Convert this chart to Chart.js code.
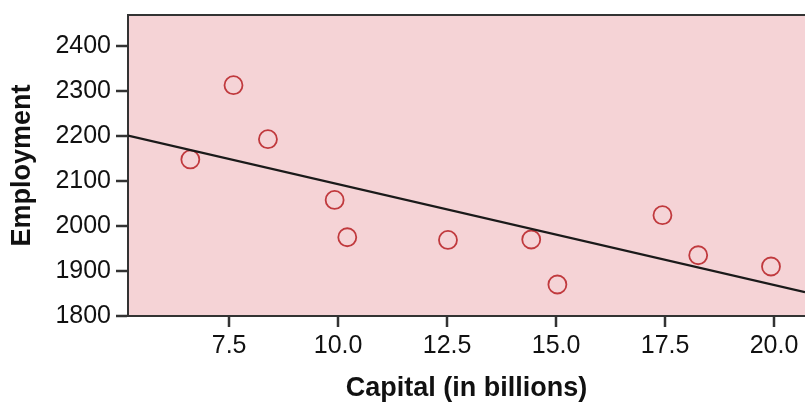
<!DOCTYPE html>
<html>
<head>
<meta charset="utf-8">
<script src="https://cdn.jsdelivr.net/npm/chart.js@4.4.0/dist/chart.umd.min.js"></script>
<style>
  html, body { margin: 0; padding: 0; background: #fff; }
  #wrap { width: 805px; height: 405px; }
</style>
</head>
<body>
<div id="wrap"><canvas id="chart" width="805" height="405"></canvas></div>
<script>
// Capital (billions) vs employment
const capital = [6.61, 7.60, 8.39, 9.92, 10.21, 12.52, 14.43, 15.03, 17.44, 18.26, 19.93];
const employment = [2148, 2313, 2193, 2058, 1975, 1969, 1970, 1870, 2024, 1935, 1910];

// fit line end points
const fitX = [5.18, 20.71];
const fitY = [2201, 1853];

const xTicks = [7.5, 10.0, 12.5, 15.0, 17.5, 20.0];
const yTicks = [1800, 1900, 2000, 2100, 2200, 2300, 2400];

const axisColor = '#333333';
const pink = 'rgb(245, 211, 214)';

const points = capital.map((x, i) => ({ x: x, y: employment[i] }));
const fitLine = fitX.map((x, i) => ({ x: x, y: fitY[i] }));

// pink plot area + top border
const plotBackground = {
    id: 'plotBackground',
    beforeDraw(chart) {
        const { ctx, chartArea } = chart;
        ctx.save();
        ctx.fillStyle = pink;
        ctx.fillRect(chartArea.left, chartArea.top, chartArea.right - chartArea.left, chartArea.bottom - chartArea.top);
        ctx.restore();
    },
    afterDraw(chart) {
        const { ctx, chartArea } = chart;
        ctx.save();
        ctx.strokeStyle = axisColor;
        ctx.lineWidth = 2;
        ctx.beginPath();
        ctx.moveTo(chartArea.left - 1, chartArea.top);
        ctx.lineTo(chartArea.right, chartArea.top);
        ctx.stroke();
        ctx.restore();
    }
};

const fontFamily = 'Liberation Sans, Arial, sans-serif';

new Chart(document.getElementById('chart'), {
    type: 'scatter',
    data: {
        datasets: [
            {
                type: 'line',
                data: fitLine,
                borderColor: '#1a1a1a',
                borderWidth: 2.2,
                pointRadius: 0,
                fill: false
            },
            {
                data: points,
                pointRadius: 9,
                pointHoverRadius: 9,
                pointBorderWidth: 1.8,
                pointBorderColor: '#c0393d',
                pointBackgroundColor: 'rgba(0,0,0,0)'
            }
        ]
    },
    options: {
        responsive: false,
        animation: false,
        layout: { autoPadding: false, padding: { left: 0, right: 0, top: 15, bottom: 0 } },
        plugins: {
            legend: { display: false },
            tooltip: { enabled: false }
        },
        scales: {
            x: {
                type: 'linear',
                min: 5.18,
                max: 20.71,
                afterBuildTicks: scale => { scale.ticks = xTicks.map(v => ({ value: v })); },
                afterFit: scale => { scale.height = 89; scale.paddingRight = 0; scale.paddingLeft = 0; },
                grid: { display: true, drawOnChartArea: false, drawTicks: true, tickLength: 11, color: axisColor, tickColor: axisColor, lineWidth: 2, tickWidth: 2.5 },
                border: { display: true, color: axisColor, width: 2 },
                ticks: {
                    color: '#111',
                    padding: 4,
                    maxRotation: 0,
                    font: { family: fontFamily, size: 25 },
                    callback: v => v.toFixed(1)
                },
                title: {
                    display: true,
                    text: 'Capital (in billions)',
                    color: '#111',
                    padding: { top: 0, bottom: 0 },
                    font: { family: fontFamily, size: 27, weight: 'bold' }
                }
            },
            y: {
                type: 'linear',
                min: 1800,
                max: 2469,
                afterBuildTicks: scale => { scale.ticks = yTicks.map(v => ({ value: v })); },
                afterFit: scale => { scale.width = 128; scale.paddingTop = 0; scale.paddingBottom = 0; },
                grid: { display: true, drawOnChartArea: false, drawTicks: true, tickLength: 12, color: axisColor, tickColor: axisColor, lineWidth: 2, tickWidth: 2.5 },
                border: { display: true, color: axisColor, width: 2 },
                ticks: {
                    color: '#111',
                    padding: 5,
                    font: { family: fontFamily, size: 25 },
                    callback: v => String(v)
                },
                title: {
                    display: true,
                    text: 'Employment',
                    color: '#111',
                    padding: { top: 6, bottom: 0 },
                    font: { family: fontFamily, size: 27, weight: 'bold' }
                }
            }
        }
    },
    plugins: [plotBackground]
});
</script>
</body>
</html>
